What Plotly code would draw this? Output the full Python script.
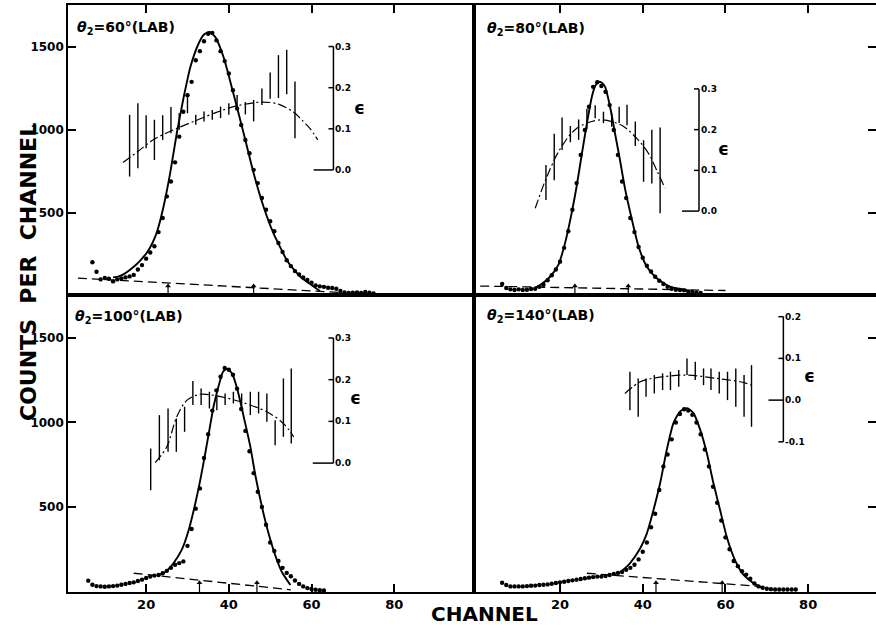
import plotly.graph_objects as go

W, H = 876, 629

# ---------------- measured data ----------------
# theta2 = 60 deg (upper left)
start60 = 7
counts60 = [203, 146, 100, 108, 104, 88, 100, 106, 112, 118, 127, 160, 186, 225, 262, 300,
            385, 470, 600, 690, 805, 960, 1110, 1210, 1290, 1420, 1475, 1535, 1580, 1585,
            1540, 1475, 1415, 1340, 1240, 1130, 1030, 940, 860, 760, 680, 590, 520, 450,
            390, 320, 265, 215, 180, 150, 130, 112, 96, 80, 64, 58, 55, 50, 48, 44, 30, 22,
            18, 20, 22, 18, 24, 20, 16]
fit60_ch = [12.0, 13.4, 15.0, 17.0, 18.5, 20.2, 21.5, 22.6, 24.2, 25.8, 27.4, 29.1, 30.7,
            32.7, 34.0, 35.3, 36.7, 38.7, 41.1, 43.6, 46.0, 48.4, 50.8, 52.5, 54.0, 55.7,
            57.3, 59.5, 62.0]
fit60_cnt = [112, 118, 138, 176, 212, 262, 318, 385, 538, 739, 979, 1200, 1380, 1521, 1575,
             1590, 1561, 1441, 1220, 979, 739, 538, 377, 290, 217, 160, 116, 75, 30]
bg60_ch = [3.5, 68.0]
bg60_cnt = [108, 20]
arrows60 = [25.3, 46.0]
eps60_ch = [16, 18, 20, 22, 24, 26, 28, 30, 32, 34, 36, 38, 40, 42, 44, 46, 48, 50, 52, 54, 56]
eps60_val = [0.059, 0.083, 0.093, 0.073, 0.103, 0.121, 0.118, 0.162, 0.122, 0.130, 0.134,
             0.140, 0.148, 0.164, 0.150, 0.144, 0.178, 0.205, 0.227, 0.238, 0.146]
eps60_err = [0.075, 0.079, 0.040, 0.049, 0.030, 0.032, 0.020, 0.024, 0.012, 0.012, 0.012,
             0.014, 0.014, 0.018, 0.015, 0.026, 0.020, 0.032, 0.052, 0.054, 0.069]
epsfit60_ch = [14.4, 18.0, 22.0, 27.4, 32.0, 37.0, 42.0, 48.0, 52.0, 55.7, 58.0, 59.7, 61.5]
epsfit60_val = [0.018, 0.045, 0.075, 0.101, 0.120, 0.140, 0.156, 0.165, 0.160, 0.140, 0.118,
                0.100, 0.073]

# theta2 = 80 deg (upper right)
start80 = 6
counts80 = [72, 48, 40, 36, 40, 36, 38, 42, 44, 55, 68, 95, 125, 160, 207, 290, 390, 520, 680,
            850, 1000, 1140, 1260, 1288, 1265, 1230, 1150, 1000, 850, 690, 590, 470, 385, 295,
            230, 182, 148, 116, 92, 72, 55, 44, 38, 36, 34, 28, 24, 20, 18]
fit80_ch = [14.0, 15.2, 17.6, 19.6, 21.2, 22.8, 24.0, 25.3, 26.5, 27.7, 28.5, 29.3, 30.1,
            30.9, 32.1, 33.3, 34.5, 35.7, 37.4, 39.0, 41.0, 43.4, 46.6, 50.7]
fit80_cnt = [50, 66, 116, 187, 317, 498, 658, 859, 1040, 1200, 1265, 1290, 1285, 1260, 1140,
             979, 819, 648, 458, 297, 176, 107, 56, 36]
bg80_ch = [0.7, 60.0]
bg80_cnt = [60, 33]
arrows80 = [23.6, 36.5]
eps80_ch = [16.6, 18.6, 20.5, 22.5, 24.5, 26.5, 28.5, 30.5, 32.5, 34.3, 36.2, 38.2, 40.2,
            42.2, 44.2]
eps80_val = [0.070, 0.133, 0.190, 0.189, 0.200, 0.226, 0.244, 0.230, 0.224, 0.236, 0.236,
             0.190, 0.123, 0.134, 0.100]
eps80_err = [0.043, 0.057, 0.040, 0.020, 0.025, 0.025, 0.016, 0.014, 0.017, 0.020, 0.025,
             0.030, 0.051, 0.066, 0.105]
epsfit80_ch = [14.0, 16.8, 20.0, 24.0, 29.7, 35.0, 38.6, 41.5, 43.4, 45.4]
epsfit80_val = [0.007, 0.084, 0.152, 0.203, 0.224, 0.210, 0.178, 0.140, 0.100, 0.056]

# theta2 = 100 deg (lower left)
start100 = 6
counts100 = [64, 40, 32, 30, 28, 30, 32, 35, 40, 45, 50, 54, 62, 70, 80, 88, 94, 98, 108, 122,
             140, 158, 168, 178, 270, 370, 490, 610, 790, 930, 1070, 1190, 1270, 1322, 1312,
             1282, 1200, 1080, 950, 830, 700, 590, 500, 395, 290, 240, 180, 140, 110, 90, 65,
             45, 30, 20, 15, 10, 8, 6]
fit100_ch = [23.0, 24.2, 25.5, 26.6, 28.6, 30.3, 31.9, 33.1, 34.3, 35.3, 36.3, 37.5, 38.6,
             39.6, 40.3, 41.1, 42.3, 43.6, 45.2, 46.4, 48.0, 49.6, 51.2, 52.8, 54.9]
fit100_cnt = [96, 108, 135, 167, 246, 364, 522, 660, 818, 956, 1093, 1212, 1300, 1318, 1305,
              1271, 1173, 1034, 857, 689, 502, 344, 216, 117, 38]
bg100_ch = [17.0, 55.0]
bg100_cnt = [108, 10]
arrows100 = [32.9, 46.8]
eps100_ch = [21.1, 23.2, 25.3, 27.3, 29.3, 31.3, 33.3, 35.3, 37.1, 39.1, 41.1, 43.1, 45.2,
             47.2, 49.2, 51.2, 53.2, 55.1]
eps100_val = [-0.015, 0.061, 0.079, 0.067, 0.105, 0.168, 0.159, 0.151, 0.145, 0.153, 0.157,
              0.151, 0.143, 0.145, 0.133, 0.073, 0.133, 0.137]
eps100_err = [0.050, 0.054, 0.052, 0.040, 0.030, 0.029, 0.020, 0.020, 0.018, 0.014, 0.014,
              0.016, 0.028, 0.026, 0.034, 0.030, 0.070, 0.090]
epsfit100_ch = [22.2, 25.0, 27.4, 29.9, 33.1, 37.1, 42.8, 49.2, 53.2, 55.7]
epsfit100_val = [0.001, 0.039, 0.111, 0.151, 0.165, 0.161, 0.147, 0.123, 0.095, 0.063]

# theta2 = 140 deg (lower right)
start140 = 6
counts140 = [52, 38, 30, 30, 30, 30, 32, 34, 35, 38, 40, 42, 46, 50, 54, 58, 62, 66, 70, 74,
             78, 82, 85, 88, 88, 92, 98, 104, 110, 115, 128, 140, 158, 190, 235, 290, 380, 460,
             600, 740, 810, 900, 1000, 1050, 1078, 1070, 1045, 1000, 930, 840, 740, 620, 525,
             420, 320, 250, 180, 150, 120, 100, 75, 48, 30, 22, 16, 14, 12, 12, 12, 12, 12, 12]
fit140_ch = [34.5, 36.9, 39.4, 41.0, 42.6, 44.2, 45.8, 47.4, 49.0, 50.7, 52.3, 53.9, 55.5,
             57.1, 58.7, 60.3, 62.3, 64.4, 66.8, 69.2]
fit140_cnt = [112, 167, 256, 344, 482, 640, 837, 995, 1064, 1084, 1054, 956, 818, 640, 482,
              324, 186, 98, 49, 19]
bg140_ch = [26.5, 68.4]
bg140_cnt = [108, 30]
arrows140 = [43.2, 59.2]
eps140_ch = [36.9, 38.9, 40.8, 42.8, 44.8, 46.7, 48.7, 50.7, 52.7, 54.7, 56.5, 58.5, 60.5,
             62.5, 64.5, 66.3]
eps140_val = [0.022, 0.006, 0.030, 0.038, 0.044, 0.046, 0.052, 0.080, 0.070, 0.056, 0.050,
              0.042, 0.034, 0.030, 0.010, 0.010]
eps140_err = [0.046, 0.046, 0.022, 0.022, 0.020, 0.022, 0.020, 0.020, 0.022, 0.020, 0.026,
              0.026, 0.034, 0.046, 0.050, 0.074]
epsfit140_ch = [35.7, 39.4, 43.4, 50.7, 57.9, 63.6, 66.4]
epsfit140_val = [0.016, 0.044, 0.054, 0.060, 0.052, 0.044, 0.036]

# tick values / labels
channel_ticks = [20, 40, 60, 80]
count_ticks = [500, 1000, 1500]
eps_ticks_std = [0.0, 0.1, 0.2, 0.3]
eps_ticks_140 = [-0.1, 0.0, 0.1, 0.2]
titles = ["60", "80", "100", "140"]

# ---------------- layout helpers ----------------
def fx(p):
    return p / W


def fy(p):
    return 1 - p / H


LEFT = [fx(68), fx(474)]
RIGHT = [fx(474), 1.0]
TOP = [fy(295), fy(5)]
BOTTOM = [fy(592), fy(295)]
PANEL_H = 290  # panel height in px, used to size the channel markers

FONT = "DejaVu Sans"
INK = "black"

panels = [
    dict(angle=titles[0], start=start60, counts=counts60, fit=(fit60_ch, fit60_cnt),
         bg=(bg60_ch, bg60_cnt), arrows=arrows60,
         eps=(eps60_ch, eps60_val, eps60_err), epsfit=(epsfit60_ch, epsfit60_val),
         xa="x", ya="y", ea="y5", xdom=LEFT, ydom=TOP, xr=[1.1, 99.3], yr=[6, 1753],
         er=[-0.304, 0.401], eticks=eps_ticks_std, cax=65.3, longtick=4.8,
         eps_label=(71.6, 0.151), title_px=(75, 28), bottom=False, left=True),
    dict(angle=titles[1], start=start80, counts=counts80, fit=(fit80_ch, fit80_cnt),
         bg=(bg80_ch, bg80_cnt), arrows=arrows80,
         eps=(eps80_ch, eps80_val, eps80_err), epsfit=(epsfit80_ch, epsfit80_val),
         xa="x2", ya="y2", ea="y6", xdom=RIGHT, ydom=TOP, xr=[-0.8, 96.4], yr=[6, 1753],
         er=[-0.206, 0.506], eticks=eps_ticks_std, cax=53.6, longtick=4.1,
         eps_label=(59.6, 0.152), title_px=(485, 29), bottom=False, left=False),
    dict(angle=titles[2], start=start100, counts=counts100, fit=(fit100_ch, fit100_cnt),
         bg=(bg100_ch, bg100_cnt), arrows=arrows100,
         eps=(eps100_ch, eps100_val, eps100_err), epsfit=(epsfit100_ch, epsfit100_val),
         xa="x3", ya="y3", ea="y7", xdom=LEFT, ydom=BOTTOM, xr=[1.1, 99.3], yr=[-3, 1754],
         er=[-0.309, 0.403], eticks=eps_ticks_std, cax=65.3, longtick=5.0,
         eps_label=(70.6, 0.156), title_px=(73, 317), bottom=True, left=True),
    dict(angle=titles[3], start=start140, counts=counts140, fit=(fit140_ch, fit140_cnt),
         bg=(bg140_ch, bg140_cnt), arrows=arrows140,
         eps=(eps140_ch, eps140_val, eps140_err), epsfit=(epsfit140_ch, epsfit140_val),
         xa="x4", ya="y4", ea="y8", xdom=RIGHT, ydom=BOTTOM, xr=[-0.8, 96.4], yr=[-3, 1754],
         er=[-0.460, 0.252], eticks=eps_ticks_140, cax=74.0, longtick=3.6,
         eps_label=(80.2, 0.058), title_px=(485, 316), bottom=True, left=False),
]

fig = go.Figure()
shapes = []
annotations = []
layout_axes = {}


def axis_key(ref, kind):
    return f"{kind}axis{ref[1:]}"


for p in panels:
    xa, ya, ea = p["xa"], p["ya"], p["ea"]

    # counts per channel (dots)
    chans = list(range(p["start"], p["start"] + len(p["counts"])))
    fig.add_trace(go.Scatter(x=chans, y=p["counts"], mode="markers",
                             marker=dict(color=INK, size=4.4),
                             xaxis=xa, yaxis=ya, showlegend=False, hoverinfo="skip"))
    # fitted line shape
    fig.add_trace(go.Scatter(x=p["fit"][0], y=p["fit"][1], mode="lines",
                             line=dict(color=INK, width=1.9, shape="spline", smoothing=0.6),
                             xaxis=xa, yaxis=ya, showlegend=False, hoverinfo="skip"))
    # background estimate
    fig.add_trace(go.Scatter(x=p["bg"][0], y=p["bg"][1], mode="lines",
                             line=dict(color=INK, width=1.3, dash="9px,5px"),
                             xaxis=xa, yaxis=ya, showlegend=False, hoverinfo="skip"))

    # upward channel markers on the baseline
    y0 = p["yr"][0]
    tip = y0 + (p["yr"][1] - p["yr"][0]) * 9.0 / PANEL_H
    ax_x, ax_y = [], []
    for a in p["arrows"]:
        ax_x += [a, a, None]
        ax_y += [y0, tip, None]
    fig.add_trace(go.Scatter(x=ax_x, y=ax_y, mode="lines", line=dict(color=INK, width=1.2),
                             xaxis=xa, yaxis=ya, showlegend=False, hoverinfo="skip",
                             cliponaxis=False))
    fig.add_trace(go.Scatter(x=p["arrows"], y=[tip] * len(p["arrows"]), mode="markers",
                             marker=dict(symbol="triangle-up", size=5, color=INK),
                             xaxis=xa, yaxis=ya, showlegend=False, hoverinfo="skip"))

    # asymmetry epsilon: vertical error bars
    ex, ev, ee = p["eps"]
    seg_x, seg_y = [], []
    for c, v, e in zip(ex, ev, ee):
        seg_x += [c, c, None]
        seg_y += [v - e, v + e, None]
    fig.add_trace(go.Scatter(x=seg_x, y=seg_y, mode="lines",
                             line=dict(color=INK, width=1.4),
                             xaxis=xa, yaxis=ea, showlegend=False, hoverinfo="skip"))
    # epsilon trend curve
    fig.add_trace(go.Scatter(x=p["epsfit"][0], y=p["epsfit"][1], mode="lines",
                             line=dict(color=INK, width=1.2, dash="9px,3px,2px,3px",
                                       shape="spline", smoothing=0.9),
                             xaxis=xa, yaxis=ea, showlegend=False, hoverinfo="skip"))

    # inset epsilon scale
    et = p["eticks"]
    cax = p["cax"]
    shapes.append(dict(type="line", xref=xa, yref=ea, x0=cax, x1=cax, y0=min(et), y1=max(et),
                       line=dict(color=INK, width=1.5)))
    for v in et:
        ln = p["longtick"] if abs(v) < 1e-9 else 1.2
        shapes.append(dict(type="line", xref=xa, yref=ea, x0=cax - ln, x1=cax, y0=v, y1=v,
                           line=dict(color=INK, width=1.5)))
        annotations.append(dict(x=cax, y=v, xref=xa, yref=ea, text=f"{v:.1f}",
                                showarrow=False, xanchor="left", yanchor="middle",
                                font=dict(family=FONT, size=9, color=INK, weight="bold")))
    annotations.append(dict(x=p["eps_label"][0], y=p["eps_label"][1], xref=xa, yref=ea,
                            text="ϵ", showarrow=False, xanchor="center", yanchor="middle",
                            font=dict(family=FONT, size=17, color=INK, weight="bold")))

    # panel label
    tx, ty = p["title_px"]
    annotations.append(dict(x=fx(tx), y=fy(ty), xref="paper", yref="paper",
                            text=f"<i>θ</i><sub>2</sub>={p['angle']}°(LAB)",
                            showarrow=False, xanchor="left", yanchor="middle",
                            font=dict(family=FONT, size=14, color=INK, weight="bold")))

    # axes
    layout_axes[axis_key(xa, "x")] = dict(
        domain=p["xdom"], range=p["xr"], anchor=ya, showgrid=False, zeroline=False,
        showline=True, mirror=True, linecolor=INK, linewidth=1.6,
        tickvals=channel_ticks, ticks="inside", ticklen=8, tickwidth=1.5, tickcolor=INK,
        side="bottom" if p["bottom"] else "top", showticklabels=p["bottom"],
        tickfont=dict(family=FONT, size=13, color=INK, weight="bold"))
    layout_axes[axis_key(ya, "y")] = dict(
        domain=p["ydom"], range=p["yr"], anchor=xa, showgrid=False, zeroline=False,
        showline=True, mirror=True, linecolor=INK, linewidth=1.6,
        tickvals=count_ticks, ticks="inside", ticklen=8, tickwidth=1.5, tickcolor=INK,
        side="left" if p["left"] else "right", showticklabels=p["left"],
        tickfont=dict(family=FONT, size=12, color=INK, weight="bold"))
    layout_axes[axis_key(ea, "y")] = dict(
        overlaying=ya, anchor=xa, range=p["er"], visible=False, showgrid=False,
        zeroline=False)

# shared axis titles
annotations.append(dict(x=fx(28), y=fy(272), xref="paper", yref="paper",
                        text="COUNTS  PER  CHANNEL", textangle=-90, showarrow=False,
                        xanchor="center", yanchor="middle",
                        font=dict(family=FONT, size=22, color=INK, weight="bold")))
annotations.append(dict(x=fx(485), y=fy(614), xref="paper", yref="paper",
                        text="CHANNEL", showarrow=False, xanchor="center", yanchor="middle",
                        font=dict(family=FONT, size=20, color=INK, weight="bold")))

fig.update_layout(
    width=W, height=H,
    margin=dict(l=0, r=0, t=0, b=0, autoexpand=False),
    paper_bgcolor="white", plot_bgcolor="white",
    shapes=shapes, annotations=annotations,
    **layout_axes,
)

fig.write_html("out.html")
